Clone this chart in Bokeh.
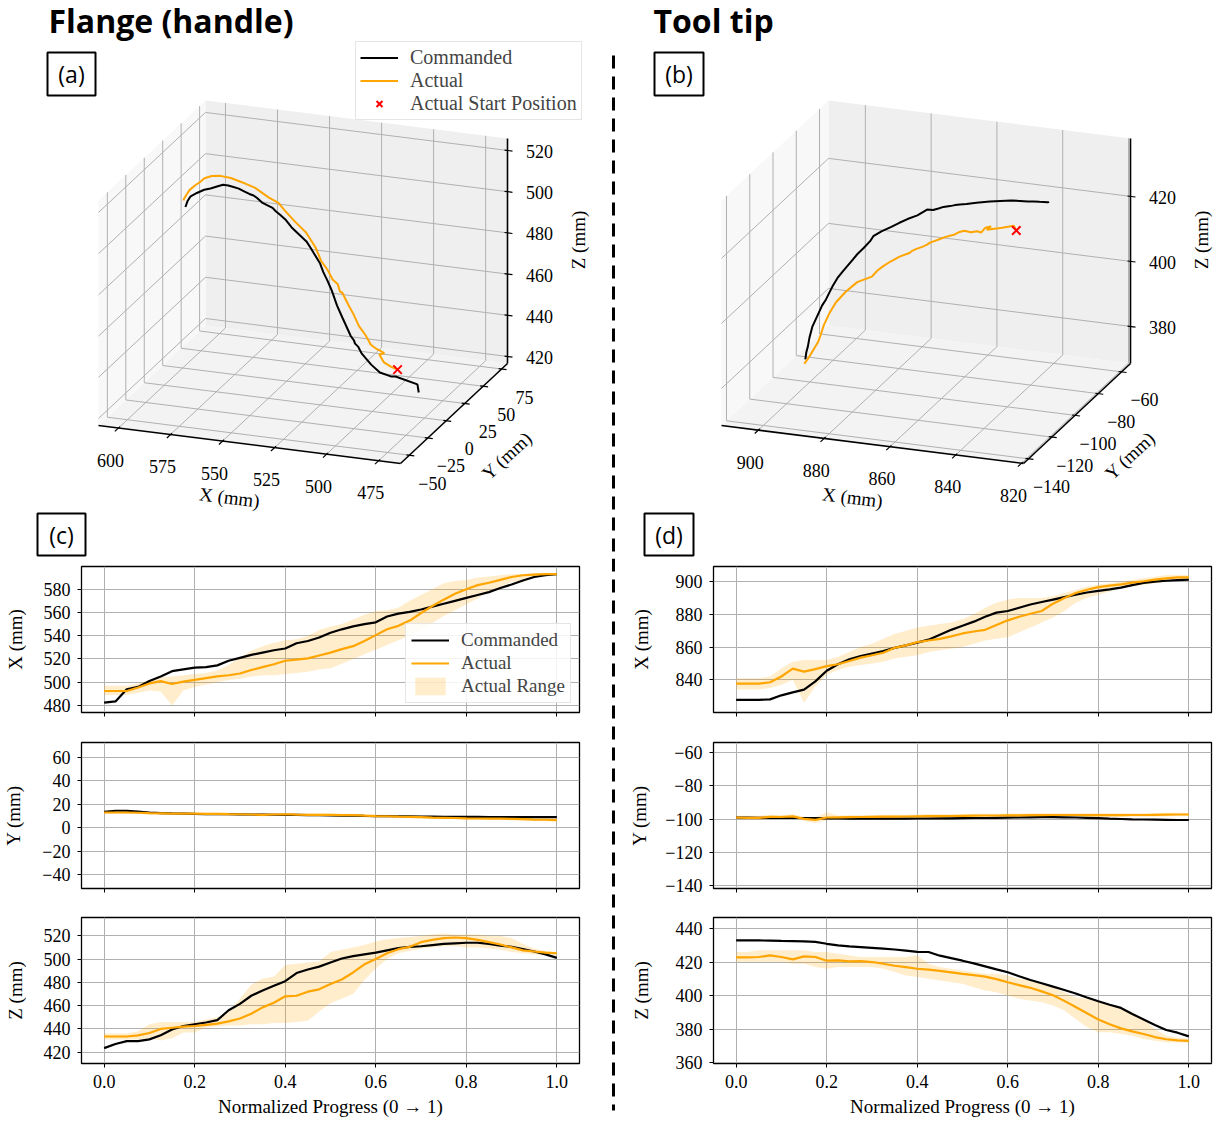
import numpy as np
from bokeh.plotting import figure
from bokeh.models import (Range1d, Legend, LegendItem, CustomJSTickFormatter,
                          FixedTicker)
from bokeh.layouts import row, column
from bokeh.embed import file_html
from bokeh.resources import INLINE
from bokeh.core.properties import value

SERIF = "Liberation Serif"
SANS = "Open Sans"
ORANGE = "#ffa500"
GRID = "#b0b0b0"

# ---------------- data ----------------
progress = [0.0, 0.025, 0.05, 0.075, 0.1, 0.125, 0.15, 0.175, 0.2, 0.225, 0.25,
            0.275, 0.3, 0.325, 0.35, 0.375, 0.4, 0.425, 0.45, 0.475, 0.5, 0.525,
            0.55, 0.575, 0.6, 0.625, 0.65, 0.675, 0.7, 0.725, 0.75, 0.775, 0.8,
            0.825, 0.85, 0.875, 0.9, 0.925, 0.95, 0.975, 1.0]

# Flange (handle)
flange_cmd_x = [482.5, 483.5, 494.0, 496.0, 501.0, 505.0, 509.5, 511.0, 512.5, 513.0, 514.5,
                518.5, 521.0, 523.5, 525.5, 527.5, 529.0, 533.5, 535.5, 538.5, 542.5, 545.5,
                548.0, 550.0, 551.5, 556.5, 559.0, 560.5, 562.5, 565.0, 567.5, 570.0, 572.5,
                575.0, 577.5, 581.0, 584.0, 587.5, 590.5, 592.0, 593.0]
flange_act_x = [492.5, 492.5, 492.5, 495.5, 499.0, 501.0, 498.5, 500.5, 502.0, 503.5, 505.0,
                506.0, 507.5, 510.5, 513.0, 515.5, 518.5, 519.5, 520.5, 523.0, 525.5, 528.5,
                531.0, 535.5, 540.5, 545.5, 548.5, 553.0, 559.5, 565.5, 571.0, 576.0, 580.0,
                583.5, 585.5, 588.0, 590.5, 592.0, 592.5, 593.0, 593.0]
flange_lo_x = [489, 489, 489, 491, 493, 492, 480, 493, 496, 498, 500, 502, 503, 505, 506, 506,
               507, 508, 509, 511, 512, 516, 520, 524, 528, 532, 536, 540, 545, 551, 557, 562,
               567, 572, 578, 582, 586, 588, 590, 592, 592]
flange_hi_x = [497, 497, 497, 499, 502, 504, 505, 506, 507, 508, 510, 515, 521, 527, 531, 534,
               536, 537, 540, 545, 548, 550, 554, 558, 561, 562, 564, 570, 575, 580, 585, 587,
               588, 590, 591, 592, 593, 593, 594, 594, 594]
flange_cmd_y = [13.5, 14.5, 14.5, 13.8, 13.0, 12.5, 12.2, 12.0, 11.8, 11.7, 11.6, 11.5, 11.4,
                11.3, 11.2, 11.1, 11.0, 10.9, 10.8, 10.7, 10.5, 10.4, 10.3, 10.1, 10.0, 9.9,
                9.8, 9.7, 9.6, 9.5, 9.4, 9.3, 9.2, 9.2, 9.1, 9.1, 9.0, 9.0, 9.0, 9.0, 9.0]
flange_act_y = [13.0, 13.0, 13.0, 12.8, 12.5, 12.3, 12.0, 12.0, 12.0, 11.8, 11.8, 11.6, 11.5,
                11.3, 11.0, 11.3, 11.5, 11.2, 11.0, 11.0, 11.0, 10.8, 10.7, 10.3, 10.0, 9.8,
                9.5, 9.3, 9.0, 8.7, 8.5, 8.3, 8.0, 7.9, 7.8, 7.7, 7.5, 7.3, 7.0, 6.8, 6.5]
flange_lo_y = [12.0, 12.0, 12.0, 11.8, 11.4, 11.2, 11.0, 10.9, 10.9, 10.7, 10.6, 10.5, 10.4,
               10.1, 9.7, 10.1, 10.4, 10.1, 9.9, 9.9, 9.8, 9.7, 9.5, 9.2, 8.9, 8.7, 8.4, 8.2,
               7.9, 7.6, 7.4, 7.2, 6.9, 6.8, 6.7, 6.6, 6.4, 6.2, 5.8, 5.6, 5.4]
flange_hi_y = [14.2, 14.2, 14.3, 14.0, 13.6, 13.4, 13.2, 13.1, 13.1, 12.9, 12.9, 12.7, 12.6,
               12.4, 12.2, 12.5, 12.6, 12.4, 12.1, 12.1, 12.2, 12.0, 11.9, 11.5, 11.2, 11.0,
               10.7, 10.5, 10.2, 9.9, 9.7, 9.5, 9.2, 9.1, 9.0, 8.9, 8.7, 8.5, 8.2, 8.0, 7.6]
flange_cmd_z = [423.5, 427.0, 429.5, 429.5, 431.0, 434.5, 439.5, 442.5, 444.0, 445.5, 447.5,
                456.0, 461.5, 468.5, 473.0, 477.0, 481.0, 488.0, 491.0, 493.5, 497.0, 500.5,
                502.5, 504.0, 505.5, 507.5, 509.5, 510.5, 511.0, 512.0, 513.0, 513.5, 514.0,
                514.0, 513.0, 511.5, 510.5, 508.5, 506.5, 504.0, 501.0]
flange_act_z = [433.5, 433.5, 433.5, 434.5, 436.5, 440.0, 441.0, 442.0, 442.5, 443.5, 444.5,
                446.5, 449.0, 453.0, 458.5, 462.5, 468.0, 468.5, 472.0, 474.0, 478.5, 482.5,
                488.5, 495.5, 500.0, 505.0, 508.5, 510.5, 514.5, 516.5, 518.0, 518.5, 518.0,
                516.5, 514.5, 512.5, 510.0, 507.5, 506.5, 505.5, 505.0]
flange_lo_z = [431, 431, 431, 431, 432, 430, 432, 437, 437, 441, 442, 443, 443, 444, 444, 445,
               445, 446, 447, 455, 462, 466, 470, 482, 492, 500, 505, 507, 509, 510, 511, 511,
               510, 510, 509, 508, 506, 505, 504, 503, 503]
flange_hi_z = [436, 436, 436, 438, 444, 446, 446, 446, 446, 448, 450, 455, 466, 478, 483, 485,
               495, 496, 497, 498, 506, 508, 510, 512, 515, 517, 518, 519, 520, 521, 522, 521,
               521, 521, 520, 520, 518, 513, 509, 507, 506]

# Tool tip
tool_cmd_x = [827.7, 827.7, 827.7, 828.0, 830.5, 832.3, 834.0, 839.0, 845.5, 849.5, 852.5,
              854.5, 856.0, 857.5, 859.5, 861.0, 862.7, 864.5, 867.5, 870.5, 873.0, 875.5,
              878.5, 881.0, 882.0, 884.0, 886.0, 887.5, 889.0, 890.5, 892.0, 893.3, 894.3,
              895.2, 896.3, 897.8, 899.2, 900.0, 900.5, 900.9, 901.2]
tool_act_x = [837.6, 837.6, 837.6, 838.5, 842.0, 846.8, 845.0, 846.5, 848.3, 849.5, 851.5,
              853.5, 855.0, 856.5, 859.5, 861.0, 863.0, 864.0, 865.0, 866.5, 868.3, 869.5,
              870.5, 873.5, 876.3, 878.5, 880.3, 882.0, 886.5, 890.0, 893.0, 895.0, 896.6,
              897.5, 898.3, 899.3, 900.2, 901.2, 902.0, 902.5, 902.6]
tool_lo_x = [834, 834, 834, 835, 837, 840, 826, 836, 843, 846, 848, 849, 850, 851, 853, 854,
             855, 857, 858, 859, 860, 862, 864, 865, 866, 869, 872, 875, 878, 882, 887, 890,
             892, 894, 896, 897, 898, 899, 900, 901, 901]
tool_hi_x = [841, 841, 841, 842, 847, 851, 852, 852, 852, 854, 857, 860, 862, 865, 868, 870,
             872, 873, 874, 875, 877, 880, 884, 887, 889, 890, 890, 890, 891, 893, 895, 897,
             898, 899, 900, 901, 902, 903, 904, 904, 904]
tool_cmd_y = [-99.0, -99.1, -99.2, -99.2, -99.2, -99.3, -99.3, -99.4, -99.5, -99.6, -99.7,
              -99.7, -99.7, -99.7, -99.7, -99.7, -99.6, -99.6, -99.5, -99.5, -99.4, -99.3,
              -99.3, -99.2, -99.1, -99.0, -98.9, -98.8, -98.8, -98.9, -99.0, -99.2, -99.4,
              -99.7, -99.9, -100.1, -100.2, -100.3, -100.4, -100.5, -100.5]
tool_act_y = [-99.0, -99.2, -99.2, -98.6, -98.7, -98.3, -99.8, -100.4, -99.0, -98.9, -98.8,
              -98.7, -98.6, -98.5, -98.5, -98.4, -98.3, -98.2, -98.2, -98.1, -98.0, -97.9,
              -97.8, -97.8, -97.7, -97.7, -97.6, -97.6, -97.5, -97.5, -97.5, -97.6, -97.6,
              -97.6, -97.6, -97.5, -97.5, -97.4, -97.3, -97.2, -97.2]
tool_lo_y = [-100.2, -100.3, -100.3, -99.8, -99.8, -99.5, -101.0, -102.3, -100.6, -100.0,
             -99.9, -99.8, -99.7, -99.6, -99.6, -99.5, -99.4, -99.3, -99.3, -99.2, -99.1,
             -99.0, -98.9, -98.9, -98.8, -98.8, -98.7, -98.7, -98.6, -98.6, -98.6, -98.7,
             -98.7, -98.7, -98.7, -98.6, -98.6, -98.5, -98.4, -98.3, -98.2]
tool_hi_y = [-97.9, -98.0, -98.0, -97.4, -97.5, -97.1, -98.6, -98.8, -95.8, -97.8, -97.7,
             -97.6, -97.5, -97.4, -97.3, -97.3, -97.2, -97.1, -97.0, -97.0, -96.9, -96.8,
             -96.7, -96.7, -96.6, -96.6, -96.5, -96.5, -96.4, -96.4, -96.4, -96.5, -96.5,
             -96.5, -96.5, -96.4, -96.4, -96.3, -96.2, -96.1, -96.1]
tool_cmd_z = [432.9, 432.9, 432.9, 432.8, 432.6, 432.5, 432.3, 432.0, 430.9, 430.0, 429.3,
              428.9, 428.5, 428.0, 427.5, 426.8, 426.1, 426.0, 423.8, 422.3, 420.8, 419.2,
              417.4, 415.6, 413.9, 411.5, 409.3, 407.3, 405.3, 403.3, 401.2, 398.8, 396.6,
              394.5, 392.6, 389.0, 385.7, 382.4, 379.4, 377.8, 375.6]
tool_act_z = [422.8, 422.8, 423.0, 424.0, 423.0, 421.6, 423.4, 423.0, 420.8, 421.0, 420.4,
              420.6, 420.0, 419.0, 417.8, 417.0, 416.0, 415.5, 414.7, 413.8, 412.9, 412.2,
              411.3, 409.8, 407.9, 406.2, 404.6, 402.5, 400.2, 396.8, 393.1, 389.4, 385.7,
              382.8, 380.4, 378.6, 377.0, 375.2, 373.9, 373.2, 372.9]
tool_lo_z = [420, 420, 420, 420, 420, 419, 419, 417, 416, 417, 417, 417, 417, 416, 414, 412,
             411, 410, 409, 408, 407, 405, 403, 402, 400, 398, 397, 396, 394, 391, 386, 381,
             378, 378, 377, 376, 374, 373, 372, 372, 372]
tool_hi_z = [426, 426, 427, 427, 427, 427, 427, 426, 426, 425, 424, 423, 423, 423, 423, 423,
             424, 419, 417, 416, 415, 414, 413, 413, 412, 410, 409, 407, 405, 402, 399, 398,
             397, 395, 393, 390, 386, 380, 376, 375, 374]

# 3D axis limits and ticks
flange_lims = [(464.5, 609.6), (-62.0, 83.0), (416.6, 525.8)]
flange_ticks = [[475, 500, 525, 550, 575, 600], [-50, -25, 0, 25, 50, 75],
                [420, 440, 460, 480, 500, 520]]
tool_lims = [(819.4, 911.2), (-144.3, -52.3), (368.6, 437.8)]
tool_ticks = [[820, 840, 860, 880, 900], [-140, -120, -100, -80, -60], [380, 400, 420]]

# 2D axis limits and ticks
x_ticks = [0.0, 0.2, 0.4, 0.6, 0.8, 1.0]
flange_2d_ranges = [(474.0, 599.5), (-52.0, 72.9), (410.3, 535.7)]
flange_2d_ticks = [[480, 500, 520, 540, 560, 580], [-40, -20, 0, 20, 40, 60],
                   [420, 440, 460, 480, 500, 520]]
tool_2d_ranges = [(820.0, 909.2), (-141.6, -54.0), (359.4, 446.6)]
tool_2d_ticks = [[840, 860, 880, 900], [-140, -120, -100, -80, -60],
                 [360, 380, 400, 420, 440]]

# ---------------- layout constants ----------------
TOP_W, TOP_H = 1225, 558
EX = (-302.0, -38.0)   # screen vector of full X span (px, y down)
EY = (107.0, -100.0)
EZ = (0.0, -225.0)


def fig_xy(sx, sy):
    """page px (y down) -> top figure coordinates (y up)"""
    return np.asarray(sx, float), TOP_H - np.asarray(sy, float)


def mstr(v):
    return str(v).replace("-", "\u2212")


def draw3d(p, origin, lims, ticks, cmd, act):
    (x0, x1), (y0, y1), (z0, z1) = lims
    ox, oy = origin

    def S(X, Y, Z):  # data -> page px
        X = np.asarray(X, float); Y = np.asarray(Y, float); Z = np.asarray(Z, float)
        u = (X - x0) / (x1 - x0); v = (Y - y0) / (y1 - y0); w = (Z - z0) / (z1 - z0)
        return (ox + u * EX[0] + v * EY[0] + w * EZ[0],
                oy + u * EX[1] + v * EY[1] + w * EZ[1])

    def P(X, Y, Z):
        return fig_xy(*S(X, Y, Z))

    # panes
    panes = [((x0, x1, x1, x0), (y0, y0, y1, y1), (z0, z0, z0, z0), "#f3f3f3"),
             ((x0, x1, x1, x0), (y1, y1, y1, y1), (z0, z0, z1, z1), "#efefef"),
             ((x1, x1, x1, x1), (y0, y1, y1, y0), (z0, z0, z1, z1), "#f8f8f8")]
    pxs, pys, cols = [], [], []
    for X, Y, Z, c in panes:
        a, b = P(X, Y, Z)
        pxs.append(list(a)); pys.append(list(b)); cols.append(c)
    p.patches(pxs, pys, fill_color=cols, line_color=None)

    xt, yt, zt = ticks
    segs = []
    for t in xt:
        segs += [((t, t), (y0, y1), (z0, z0)), ((t, t), (y1, y1), (z0, z1))]
    for t in yt:
        segs += [((x0, x1), (t, t), (z0, z0)), ((x1, x1), (t, t), (z0, z1))]
    for t in zt:
        segs += [((x0, x1), (y1, y1), (t, t)), ((x1, x1), (y0, y1), (t, t))]
    gx, gy = [], []
    for X, Y, Z in segs:
        a, b = P(X, Y, Z)
        gx.append(list(a)); gy.append(list(b))
    p.multi_line(gx, gy, line_color=GRID, line_width=1)

    # axis lines
    ax_segs = [((x0, x1), (y0, y0), (z0, z0)), ((x0, x0), (y0, y1), (z0, z0)),
               ((x0, x0), (y1, y1), (z0, z1))]
    axx, axy = [], []
    for X, Y, Z in ax_segs:
        a, b = P(X, Y, Z)
        axx.append(list(a)); axy.append(list(b))
    p.multi_line(axx, axy, line_color="black", line_width=1.6)

    # ticks + labels
    tkx, tky = [], []
    lx, ly, lt = [], [], []
    dxv = np.array([-0.73, 0.68])      # x ticks, toward the viewer
    dyv = np.array([0.992, 0.125])     # y/z ticks, to the right
    for t in xt:
        sx, sy = S(t, y0, z0)
        a, b = fig_xy([sx - 2 * dxv[0], sx + 5 * dxv[0]], [sy - 2 * dxv[1], sy + 5 * dxv[1]])
        tkx.append(list(a)); tky.append(list(b))
        a, b = fig_xy(sx - 8, sy + 32)
        lx.append(float(a)); ly.append(float(b)); lt.append(mstr(t))
    for t in yt:
        sx, sy = S(x0, t, z0)
        a, b = fig_xy([sx - 3 * dyv[0], sx + 5 * dyv[0]], [sy - 3 * dyv[1], sy + 5 * dyv[1]])
        tkx.append(list(a)); tky.append(list(b))
        a, b = fig_xy(sx + 23, sy + 28)
        lx.append(float(a)); ly.append(float(b)); lt.append(mstr(t))
    for t in zt:
        sx, sy = S(x0, y1, t)
        a, b = fig_xy([sx - 3 * dyv[0], sx + 5 * dyv[0]], [sy - 3 * dyv[1], sy + 5 * dyv[1]])
        tkx.append(list(a)); tky.append(list(b))
        a, b = fig_xy(sx + 32, sy + 1)
        lx.append(float(a)); ly.append(float(b)); lt.append(mstr(t))
    p.multi_line(tkx, tky, line_color="black", line_width=1.2)
    p.text(lx, ly, text=lt, text_font=value(SERIF), text_font_size="18px",
           text_align="center", text_baseline="middle", text_color="black")

    # axis titles
    sx, sy = S((x0 + x1) / 2, y0, z0)
    a1 = fig_xy(sx - 20, sy + 53)
    sx, sy = S(x0, (y0 + y1) / 2, z0)
    a2 = fig_xy(sx + 53, sy + 42)
    sx, sy = S(x0, y1, (z0 + z1) / 2)
    a3 = fig_xy(sx + 71, sy - 11)
    p.text([float(a1[0]), float(a2[0]), float(a3[0])],
           [float(a1[1]), float(a2[1]), float(a3[1])],
           text=["X (mm)", "Y (mm)", "Z (mm)"],
           angle=[-np.deg2rad(7.2), np.deg2rad(43), np.pi / 2],
           text_font=value(SERIF), text_font_size="19px",
           text_align="center", text_baseline="middle", text_color="black")

    # trajectories
    cx, cy = P(*cmd)
    ax_, ay_ = P(*act)
    r_cmd = p.line(list(cx), list(cy), line_color="black", line_width=2)
    r_act = p.line(list(ax_), list(ay_), line_color=ORANGE, line_width=2)
    sx0, sy0 = P(act[0][0], act[1][0], act[2][0])
    r_start = p.scatter([float(sx0)], [float(sy0)], marker="x", size=12,
                        line_color="red", line_width=2)
    return r_cmd, r_act, r_start


# ---------------- top figure (titles + 3D panels) ----------------
top = figure(width=TOP_W, height=TOP_H, x_range=Range1d(0, TOP_W), y_range=Range1d(0, TOP_H),
             output_backend="svg", toolbar_location=None,
             x_axis_location=None, y_axis_location=None,
             min_border=0, min_border_left=0, min_border_right=0,
             min_border_top=0, min_border_bottom=0)
top.grid.visible = False
top.outline_line_color = None

ra = draw3d(top, (400.0, 463.0), flange_lims, flange_ticks,
            (flange_cmd_x, flange_cmd_y, flange_cmd_z),
            (flange_act_x, flange_act_y, flange_act_z))
draw3d(top, (1023.0, 463.0), tool_lims, tool_ticks,
       (tool_cmd_x, tool_cmd_y, tool_cmd_z),
       (tool_act_x, tool_act_y, tool_act_z))

# titles
tx, ty = fig_xy([48, 653], [20, 20])
top.text(list(tx), list(ty), text=["Flange (handle)", "Tool tip"], text_font=value(SANS),
         text_font_size="32px", text_font_style="bold", text_align="left",
         text_baseline="middle", text_color="black")

# panel label boxes
boxes = [("(a)", 47, 95, 52, 95), ("(b)", 654, 703, 52, 95),
         ("(c)", 37, 85, 513, 555), ("(d)", 644, 693, 513, 555)]
for lab, l, r, t, b in boxes:
    (L, R), (T, B) = fig_xy([l, r], [t, b])
    top.quad(left=[float(L)], right=[float(R)], top=[float(T)], bottom=[float(B)],
             fill_color="white", line_color="black", line_width=2)
    cx, cy = fig_xy((l + r) / 2, (t + b) / 2)
    top.text([float(cx)], [float(cy)], text=[lab], text_font=value(SANS), text_font_size="23px",
             text_align="center", text_baseline="middle", text_color="black")

# dashed separator (top part)
dx, dy = fig_xy([613, 613], [55, TOP_H])
top.line(list(dx), list(dy), line_color="black", line_width=3, line_dash="13 8")

leg_a = Legend(items=[LegendItem(label="Commanded", renderers=[ra[0]]),
                      LegendItem(label="Actual", renderers=[ra[1]]),
                      LegendItem(label="Actual Start Position", renderers=[ra[2]])],
               location=(355, 438), orientation="vertical")
leg_a.label_text_font = SERIF
leg_a.label_text_font_size = "20px"
leg_a.glyph_width = 38
leg_a.glyph_height = 21
leg_a.label_height = 21
leg_a.label_standoff = 12
leg_a.spacing = 0
leg_a.padding = 4
leg_a.margin = 0
leg_a.border_line_color = "#cccccc"
leg_a.background_fill_alpha = 0.85
top.add_layout(leg_a)


# ---------------- 2D plots ----------------
def make2d(width, height, mbl, mbr, mbt, mbb, yrange, yticks, ylabel, standoff, last,
           cmd, act, lo, hi):
    p = figure(width=width, height=height, x_range=Range1d(-0.05, 1.05),
               y_range=Range1d(*yrange), output_backend="svg", toolbar_location=None,
               min_border_left=mbl, min_border_right=mbr, min_border_top=mbt,
               min_border_bottom=mbb)
    p.xaxis.ticker = FixedTicker(ticks=x_ticks)
    p.yaxis.ticker = FixedTicker(ticks=yticks)
    p.yaxis.formatter = CustomJSTickFormatter(
        code="return (tick < 0 ? '\\u2212' : '') + Math.abs(tick).toFixed(0);")
    for ax in (p.xaxis[0], p.yaxis[0]):
        ax.axis_line_color = None
        ax.major_tick_out = 4
        ax.major_tick_in = 0
        ax.major_tick_line_color = "black"
        ax.major_tick_line_width = 1
        ax.minor_tick_line_color = None
        ax.major_label_text_font = SERIF
        ax.major_label_text_font_size = "18px"
        ax.major_label_text_color = "black"
        ax.axis_label_text_font = SERIF
        ax.axis_label_text_font_size = "19px"
        ax.axis_label_text_font_style = "normal"
        ax.axis_label_text_color = "black"
    p.yaxis.axis_label = ylabel
    p.yaxis.axis_label_standoff = standoff
    p.yaxis.major_label_standoff = 7
    if last:
        p.xaxis.formatter = CustomJSTickFormatter(code="return tick.toFixed(1);")
        p.xaxis.axis_label = "Normalized Progress (0 \u2192 1)"
        p.xaxis.major_label_standoff = 7
        p.xaxis.axis_label_standoff = 5
    else:
        p.xaxis.formatter = CustomJSTickFormatter(code="return '';")
        p.xaxis.major_label_standoff = 0
    p.grid.grid_line_color = GRID
    p.grid.grid_line_width = 1
    p.outline_line_color = "black"
    p.outline_line_width = 1.3
    p.outline_line_alpha = 1
    r_rng = p.varea(x=progress, y1=lo, y2=hi, fill_color=ORANGE, fill_alpha=0.2)
    r_cmd = p.line(progress, cmd, line_color="black", line_width=2.2)
    r_act = p.line(progress, act, line_color=ORANGE, line_width=2.2)
    return p, (r_cmd, r_act, r_rng)


LW, SP_W, RW = 608, 12, 605
HX, HY, HZ = 169, 175, 219

fcx, rc = make2d(LW, HX, 80, 29, 8, 15, flange_2d_ranges[0], flange_2d_ticks[0], "X (mm)", 15,
                 False, flange_cmd_x, flange_act_x, flange_lo_x, flange_hi_x)
fcy, _ = make2d(LW, HY, 80, 29, 15, 14, flange_2d_ranges[1], flange_2d_ticks[1], "Y (mm)", 15,
                False, flange_cmd_y, flange_act_y, flange_lo_y, flange_hi_y)
fcz, _ = make2d(LW, HZ, 80, 29, 15, 58, flange_2d_ranges[2], flange_2d_ticks[2], "Z (mm)", 15,
                True, flange_cmd_z, flange_act_z, flange_lo_z, flange_hi_z)

tcx, _ = make2d(RW, HX, 93, 14, 8, 15, tool_2d_ranges[0], tool_2d_ticks[0], "X (mm)", 21,
                False, tool_cmd_x, tool_act_x, tool_lo_x, tool_hi_x)
tcy, _ = make2d(RW, HY, 93, 14, 15, 14, tool_2d_ranges[1], tool_2d_ticks[1], "Y (mm)", 12,
                False, tool_cmd_y, tool_act_y, tool_lo_y, tool_hi_y)
tcz, _ = make2d(RW, HZ, 93, 14, 15, 58, tool_2d_ranges[2], tool_2d_ticks[2], "Z (mm)", 21,
                True, tool_cmd_z, tool_act_z, tool_lo_z, tool_hi_z)

leg_c = Legend(items=[LegendItem(label="Commanded", renderers=[rc[0]]),
                      LegendItem(label="Actual", renderers=[rc[1]]),
                      LegendItem(label="Actual Range", renderers=[rc[2]])],
               location=(324, 9), orientation="vertical")
leg_c.label_text_font = SERIF
leg_c.label_text_font_size = "19px"
leg_c.glyph_width = 38
leg_c.glyph_height = 22
leg_c.label_height = 22
leg_c.label_standoff = 12
leg_c.spacing = 1
leg_c.padding = 5
leg_c.margin = 0
leg_c.border_line_color = "#cccccc"
leg_c.background_fill_alpha = 0.85
fcx.add_layout(leg_c)

# dashed separator (bottom part)
SP_H = HX + HY + HZ
spacer = figure(width=SP_W, height=SP_H, x_range=Range1d(0, SP_W), y_range=Range1d(0, SP_H),
                output_backend="svg", toolbar_location=None,
                x_axis_location=None, y_axis_location=None,
                min_border=0, min_border_left=0, min_border_right=0,
                min_border_top=0, min_border_bottom=0)
spacer.grid.visible = False
spacer.outline_line_color = None
spacer.line([5, 5], [SP_H, 11], line_color="black", line_width=3, line_dash="13 8")

layout = column(top, row(column(fcx, fcy, fcz), spacer, column(tcx, tcy, tcz)))

with open("out.html", "w", encoding="utf-8") as f:
    f.write(file_html(layout, INLINE, title="Flange vs tool tip trajectories"))
